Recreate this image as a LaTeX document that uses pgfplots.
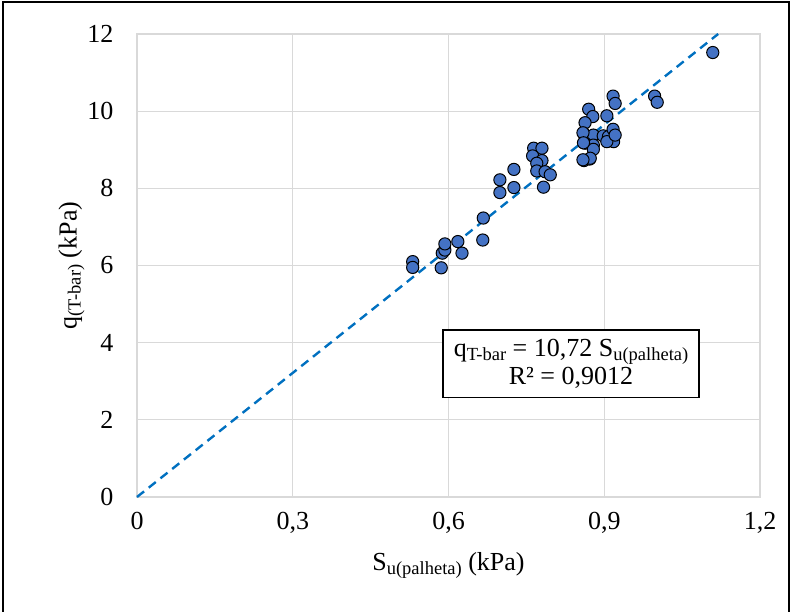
\documentclass[border=0pt]{standalone}
\usepackage{pgfplots}
\pgfplotsset{compat=1.18}
\usepackage{fontspec}
\setmainfont{Liberation Serif}
\newcommand\chartfont{\fontsize{26}{30}\selectfont}
\newcommand\sub[1]{\raisebox{-4pt}{\fontsize{18.5}{20}\selectfont #1}}
\definecolor{ptblue}{RGB}{68,114,196}
\definecolor{trendblue}{RGB}{0,112,192}
\definecolor{gridgray}{RGB}{217,217,217}
\begin{document}
\begin{tikzpicture}[x=1pt,y=1pt]
\useasboundingbox (0,0) rectangle (792,612);
\draw[black, line width=1.2pt] (3,-5) -- (3,610) -- (789,610) -- (789,-5);
\begin{axis}[
    at={(137pt,115pt)}, anchor=south west,
    scale only axis,
    width=623pt, height=463pt,
    xmin=0, xmax=1.2, ymin=0, ymax=12,
    xtick={0,0.3,0.6,0.9,1.2},
    ytick={0,2,4,6,8,10,12},
    xticklabels={0,{0,3},{0,6},{0,9},{1,2}},
    major tick length=0pt,
    grid=major,
    grid style={gridgray, line width=1.2pt},
    axis line style={gridgray, line width=1.2pt},
    /pgf/number format/assume math mode=true,
    tick label style={font=\chartfont},
    xticklabel style={yshift=-12pt},
    yticklabel style={xshift=-20pt},
    label style={font=\chartfont},
    xlabel={S\sub{u(palheta)} (kPa)},
    ylabel={q\sub{(T-bar)} (kPa)},
    xlabel style={yshift=-12pt},
    ylabel style={yshift=-4pt},
    clip=false,
]
% trendline q = 10,72 S
\addplot[trendblue, line width=2.4pt, dash pattern=on 9pt off 6pt] coordinates {(0,0) (1.1194,12)};
% data
\addplot[only marks, mark=*, mark size=6.1pt,
    mark options={fill=ptblue, draw=black, line width=1pt}] coordinates {
(0.531,6.10) (0.531,5.95) (0.586,5.94) (0.588,6.32) (0.593,6.40)
(0.593,6.56) (0.626,6.32) (0.618,6.62) (0.666,6.66) (0.667,7.23)
(0.699,8.22) (0.699,7.89) (0.726,8.49) (0.726,8.02) (0.783,8.03)
(0.764,9.04) (0.780,9.04) (0.762,8.84) (0.780,8.72) (0.770,8.65)
(0.770,8.45) (0.786,8.43) (0.796,8.35)
(0.860,9.43) (0.879,9.38) (0.863,9.17) (0.879,9.12) (0.879,9.01)
(0.861,8.72) (0.872,8.76) (0.898,9.36) (0.908,9.34) (0.918,9.21)
(0.905,9.21) (0.917,10.39) (0.921,10.20) (0.997,10.39) (1.002,10.23)
(0.870,10.05) (0.878,9.86) (0.905,9.88) (0.863,9.70) (0.859,9.44)
(0.917,9.53) (0.921,9.38) (0.860,9.18) (0.873,8.78) (0.859,8.74)
(1.109,11.52)
};
\node[draw=black, fill=white, line width=1.6pt, align=center,
      font=\chartfont, inner xsep=11pt, inner ysep=9pt]
  at (axis cs:0.836,3.45)
  {q\sub{T-bar} = 10,72 S\sub{u(palheta)}\\[-2pt]R² = 0,9012};
\end{axis}
\end{tikzpicture}
\end{document}
